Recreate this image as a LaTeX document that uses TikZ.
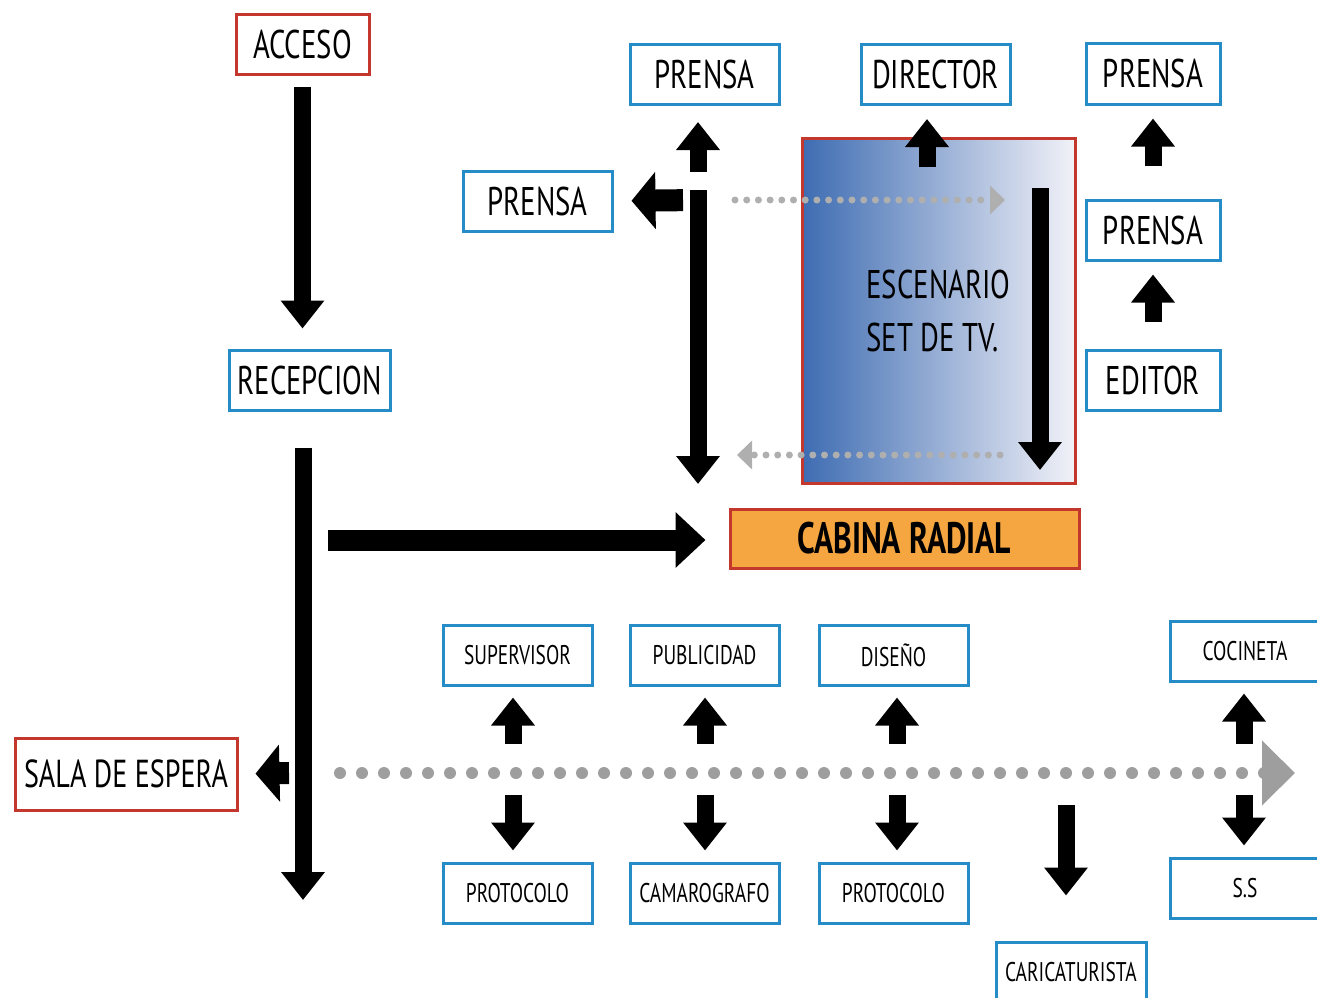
\documentclass[tikz,border=0pt]{standalone}
\usepackage{fontspec}
\setmainfont[FakeStretch=0.72]{PT Sans}
\usetikzlibrary{arrows.meta}
\definecolor{bordeazul}{RGB}{38,140,200}
\definecolor{borderojo}{RGB}{195,55,45}
\definecolor{naranja}{RGB}{246,166,64}
\definecolor{gris}{RGB}{158,158,158}
\definecolor{grisclaro}{RGB}{175,175,175}
\definecolor{azulset}{RGB}{62,108,178}
\definecolor{blancoset}{RGB}{242,242,248}
\tikzset{caja/.style={draw=bordeazul, line width=3pt, minimum height=60pt, inner sep=0pt, font=\fontsize{40}{40}\selectfont},
  cajaroja/.style={caja, draw=borderojo},
  chica/.style={font=\fontsize{27}{27}\selectfont},
  flecha/.style={line width=17pt, -{Triangle[width=42pt,length=28pt]}},
  corta/.style={line width=22pt, -{Triangle[width=56pt,length=24pt]}},
  gruesa/.style={line width=21pt, -{Triangle[width=54pt,length=30pt]}},
  puntitos/.style={draw=grisclaro, line width=7pt, line cap=round, dash pattern=on 0pt off 11.7pt, -{Triangle[width=28pt,length=15pt]}},
  puntos/.style={draw=gris, line width=12pt, line cap=round, dash pattern=on 0pt off 22pt, -{Triangle[width=63pt,length=33pt]}}}

\begin{document}
\begin{tikzpicture}[x=1pt,y=-1pt]
  \useasboundingbox (0,0) rectangle (1317,998);
  % columna de entrada
  \node[cajaroja, minimum width=133pt] (acceso) at (302.5,45) {ACCESO};
  \node[caja, minimum width=161pt] (recepcion) at (309.5,380) {RECEPCION};
  \node[cajaroja, minimum width=222pt, minimum height=72pt, font=\fontsize{39}{39}\selectfont] (sala) at (126,774) {SALA DE ESPERA};
  \node[draw=borderojo, fill=naranja, line width=3pt, minimum width=349pt, minimum height=59pt,
    font=\fontsize{44}{44}\selectfont\bfseries] (cabina) at (904.5,538.5) {CABINA RADIAL};
  % set de tv
  \node[draw=borderojo, line width=3pt, left color=azulset, right color=blancoset, minimum width=273pt,
    minimum height=345pt, align=left, font=\fontsize{40}{53}\selectfont] (escenario) at (938.5,310.5) {ESCENARIO\\SET DE TV.};
  \foreach \n/\x/\y/\w/\t in {
    prensaL/537.5/201/149/PRENSA,
    prensaT/704.5/74.5/149/PRENSA,
    director/935.5/74.5/149/DIRECTOR,
    prensaR1/1153/74/134/PRENSA,
    prensaR2/1153/230/134/PRENSA,
    editor/1153/380/134/EDITOR%
  } {
    \node[caja, minimum width=\w pt] (\n) at (\x,\y) {\t};
  }
  \coordinate (finbaja) at (303,900);
  \coordinate (ramal) at (328,540);
  \coordinate (cruce) at (289,773);
  \coordinate (eje) at (698,200);
  \coordinate (bajo) at (698,484);
  \coordinate (dir0) at (927,167);
  \coordinate (esc0) at (1040,188);
  \coordinate (esc1) at (1040,470);
  \coordinate (p1) at (735,200);
  \coordinate (p2) at (1005,200);
  \coordinate (p3) at (1000,455);
  \coordinate (p4) at (737,455);
  \coordinate (ini) at (340,773);
  \coordinate (fin) at (1295,773);
  \draw[flecha, shorten <=10pt, shorten >=20pt] (acceso.south) -- (acceso.south |- recepcion.north);
  \draw[flecha, shorten <=36pt] (recepcion.south -| finbaja) -- (finbaja);
  \draw[gruesa, shorten >=23pt] (ramal) -- (ramal -| cabina.west);
  \draw[corta, shorten >=17pt] (cruce) -- (sala.east);
  \draw[puntitos] (p1) -- (p2);
  \draw[puntitos] (p3) -- (p4);
  \draw[flecha, shorten <=28pt, shorten >=16pt] (eje) -- (eje |- prensaT.south);
  \draw[corta, shorten <=15pt, shorten >=18pt] (eje) -- (prensaL.east);
  \draw[flecha, shorten <=-10pt] (eje) -- (bajo);
  \draw[flecha, shorten >=13pt] (dir0) -- (dir0 |- director.south);
  \draw[flecha] (esc0) -- (esc1);
  \draw[flecha, shorten <=33pt, shorten >=13pt] (prensaR2.north) -- (prensaR1.south);
  \draw[flecha, shorten <=27pt, shorten >=13pt] (editor.north) -- (prensaR2.south);
  % fila de abajo
  \draw[puntos] (ini) -- (fin);
  \foreach \n/\x/\f/\w/\ya/\yb/\arr/\aba in {
    a/517.5/513/149/655/893/SUPERVISOR/PROTOCOLO,
    b/704.5/705/149/655/893/PUBLICIDAD/CAMAROGRAFO,
    c/893.5/897/149/655/893/DISEÑO/PROTOCOLO,
    d/1245/1244/150/651/888/COCINETA/S.S%
  } {
    \node[caja, chica, minimum width=\w pt] (\n1) at (\x,\ya) {\arr};
    \node[caja, chica, minimum width=\w pt] (\n2) at (\x,\yb) {\aba};
    \coordinate (\n0) at (\f,773);
    \draw[flecha, shorten <=29pt, shorten >=11pt] (\n0) -- (\n0 |- \n1.south);
    \draw[flecha, shorten <=22pt, shorten >=11pt] (\n0) -- (\n0 |- \n2.north);
  }
  \node[caja, chica, minimum width=150pt] (cari) at (1071,972) {CARICATURISTA};
  \coordinate (caida) at (1066,805);
  \draw[flecha, shorten >=45pt] (caida) -- (caida |- cari.north);
\end{tikzpicture}
\end{document}
